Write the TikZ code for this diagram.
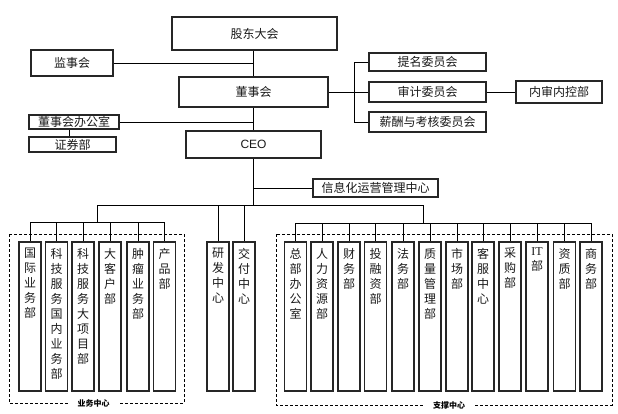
\documentclass[tikz,border=0pt]{standalone}
\usepackage{fontspec}
\newfontfamily\cjk{Noto Sans CJK SC}
\newfontfamily\lsans{Liberation Sans}
\newfontfamily\lserif{Liberation Serif}
\tikzset{
  box/.style={draw=black!85, line width=1.1pt, inner sep=0pt, font=\cjk\fontsize{12}{15}\selectfont, text=black!90},
  conn/.style={draw=black, line width=0.9pt},
  vbox/.style={box, minimum width=22pt, minimum height=149pt},
  grp/.style={draw=black, line width=0.8pt, dash pattern=on 3pt off 2pt},
  grplabel/.style={fill=white, inner xsep=8pt, inner ysep=1pt, font=\cjk\bfseries\fontsize{8}{8}\selectfont}
}
\newcommand\vtext[1]{\parbox[c][149pt][t]{20pt}{\centering\vspace*{6pt}\fontsize{12}{15}\selectfont #1\par}}
\begin{document}
\begin{tikzpicture}[x=1pt,y=-1pt]
\useasboundingbox (0,0) rectangle (618,413);
% top part
\node[box, minimum width=165pt, minimum height=33pt] (gd) at (254.5,33.5) {股东大会};
\node[box, minimum width=82pt, minimum height=26pt] (jsh) at (72,63) {监事会};
\node[box, minimum width=149pt, minimum height=30pt] (dsh) at (253.5,92) {董事会};
\node[box, minimum width=90pt, minimum height=14pt] (dsb) at (74,122) {董事会办公室};
\node[box, minimum width=87pt, minimum height=15pt] (zqb) at (72.5,144.5) {证券部};
\node[box, minimum width=135pt, minimum height=27pt, font=\lsans\fontsize{12}{14}\selectfont] (ceo) at (253.5,144.5) {CEO};
\node[box, minimum width=125pt, minimum height=18pt] (xxh) at (375.5,188) {信息化运营管理中心};
\node[box, minimum width=117pt, minimum height=18pt] (tm) at (427.5,62) {提名委员会};
\node[box, minimum width=117pt, minimum height=20pt] (sj) at (427.5,92) {审计委员会};
\node[box, minimum width=117pt, minimum height=20pt] (xc) at (427.5,122) {薪酬与考核委员会};
\node[box, minimum width=86pt, minimum height=22pt] (nsk) at (559,92) {内审内控部};
% groups
\draw[grp] (9,234) rectangle (184,403);
\draw[grp] (276,234) rectangle (612,405);
\node[grplabel] (ywl) at (93.5,403) {业务中心};
\node[grplabel] (zcl) at (449,405) {支撑中心};
% bottom boxes
\node[vbox] (gj) at (30,316.5) {\vtext{国\\际\\业\\务\\部}};
\node[vbox] (kn) at (56.5,316.5) {\vtext{科\\技\\服\\务\\国\\内\\业\\务\\部}};
\node[vbox] (kd) at (83,316.5) {\vtext{科\\技\\服\\务\\大\\项\\目\\部}};
\node[vbox] (dk) at (110,316.5) {\vtext{大\\客\\户\\部}};
\node[vbox] (zl) at (138,316.5) {\vtext{肿\\瘤\\业\\务\\部}};
\node[vbox] (cp) at (164.5,316.5) {\vtext{产\\品\\部}};
\node[vbox] (yf) at (218,316.5) {\vtext{研\\发\\中\\心}};
\node[vbox] (jf) at (244,316.5) {\vtext{交\\付\\中\\心}};
\node[vbox] (zb) at (295.5,316.5) {\vtext{总\\部\\办\\公\\室}};
\node[vbox] (rl) at (322,316.5) {\vtext{人\\力\\资\\源\\部}};
\node[vbox] (cw) at (349,316.5) {\vtext{财\\务\\部}};
\node[vbox] (trz) at (375.5,316.5) {\vtext{投\\融\\资\\部}};
\node[vbox] (fw) at (403,316.5) {\vtext{法\\务\\部}};
\node[vbox] (zlg) at (430,316.5) {\vtext{质\\量\\管\\理\\部}};
\node[vbox] (sc) at (457,316.5) {\vtext{市\\场\\部}};
\node[vbox] (kf) at (483,316.5) {\vtext{客\\服\\中\\心}};
\node[vbox] (cg) at (510,316.5) {\vtext{采\\购\\部}};
\node[vbox] (it) at (537,316.5) {\vtext{{\lserif IT}\\部}};
\node[vbox] (zz) at (564.5,316.5) {\vtext{资\\质\\部}};
\node[vbox] (sw) at (591,316.5) {\vtext{商\\务\\部}};
% connectors
\coordinate (j1) at (253,62);
\draw[conn] (gd.south -| j1) -- (dsh.north -| j1);
\draw[conn] (jsh.east) -- (jsh.east -| j1);
\draw[conn] (dsh.south -| j1) -- (ceo.north -| j1);
\draw[conn] (dsb.east) -- (dsb.east -| j1);
\coordinate (k) at (69,130);
\draw[conn] (dsb.south -| k) -- (zqb.north -| k);
\coordinate (c1) at (354,92);
\draw[conn] (dsh.east) -- (c1);
\draw[conn] (c1 |- tm.west) -- (c1 |- xc.west);
\draw[conn] (c1 |- tm.west) -- (tm.west);
\draw[conn] (c1 |- sj.west) -- (sj.west);
\draw[conn] (c1 |- xc.west) -- (xc.west);
\draw[conn] (sj.east) -- (nsk.west);
\coordinate (h) at (253,205);
\draw[conn] (ceo.south -| h) -- (h);
\draw[conn] (xxh.west -| h) -- (xxh.west);
\coordinate (hl) at (97,205);
\coordinate (hr) at (423,205);
\draw[conn] (hl) -- (hr);
\coordinate (ll) at (97,222);
\coordinate (rr) at (423,223);
\draw[conn] (hl) -- (ll);
\draw[conn] (hr) -- (rr);
\draw[conn] (gj.north |- ll) -- (cp.north |- ll);
\foreach \n in {gj,kn,kd,dk,zl,cp} {\draw[conn] (\n.north |- ll) -- (\n.north);}
\draw[conn] (yf.north |- h) -- (yf.north);
\draw[conn] (jf.north |- h) -- (jf.north);
\draw[conn] (zb.north |- rr) -- (sw.north |- rr);
\foreach \n in {zb,rl,cw,trz,fw,zlg,sc,kf,cg,it,zz,sw} {\draw[conn] (\n.north |- rr) -- (\n.north);}
\end{tikzpicture}
\end{document}
